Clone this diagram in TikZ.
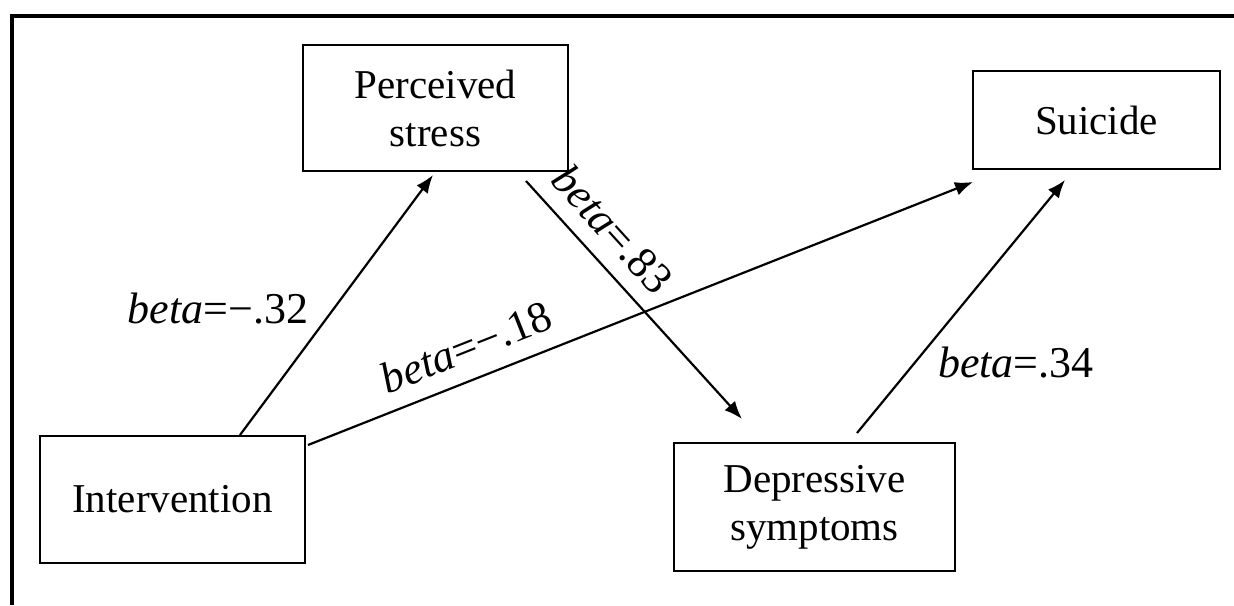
\documentclass[tikz,border=0pt]{standalone}
\usepackage{fontspec}
\setmainfont{Liberation Serif}
\usetikzlibrary{arrows.meta}
\begin{document}
\begin{tikzpicture}[x=1pt,y=-1pt,
  box/.style={draw,line width=2.6pt,inner sep=0pt,font=\fontsize{41}{48}\selectfont,align=center},
  arr/.style={line width=2.2pt,-{Latex[length=18pt,width=14pt]}},
  lab/.style={inner sep=0pt,font=\fontsize{44}{48}\selectfont}]
\useasboundingbox (0,0) rectangle (1234,605);
\draw[line width=4.5pt] (12,605) -- (12,16) -- (1234,16);
\node[box,minimum width=265pt,minimum height=126pt] (ps) at (435.5,108) {Perceived\\stress};
\node[box,minimum width=247pt,minimum height=98pt] (su) at (1096.5,120) {Suicide};
\node[box,minimum width=265pt,minimum height=127pt] (iv) at (172.5,499.5) {Intervention};
\node[box,minimum width=281pt,minimum height=128pt] (ds) at (814.5,507) {Depressive\\symptoms};
\coordinate (ivA) at (240,435);
\coordinate (psA) at (433,175);
\coordinate (ivB) at (308,445);
\coordinate (suB) at (973,182);
\coordinate (psC) at (526,181);
\coordinate (dsC) at (742,419);
\coordinate (dsD) at (857,433);
\coordinate (suD) at (1065,180);
\draw[arr] (ivA) -- (psA);
\draw[arr] (ivB) -- (suB);
\draw[arr] (psC) -- (dsC);
\draw[arr] (dsD) -- (suD);
\node[lab] (l32) at (218,309) {\textit{beta}=−.32};
\node[lab,rotate=21.6] (l18) at (466,347) {\textit{beta}=−.18};
\node[lab,rotate=-47.7] (l83) at (613,229) {\textit{beta}=.83};
\node[lab] (l34) at (1016,363) {\textit{beta}=.34};
\end{tikzpicture}
\end{document}
